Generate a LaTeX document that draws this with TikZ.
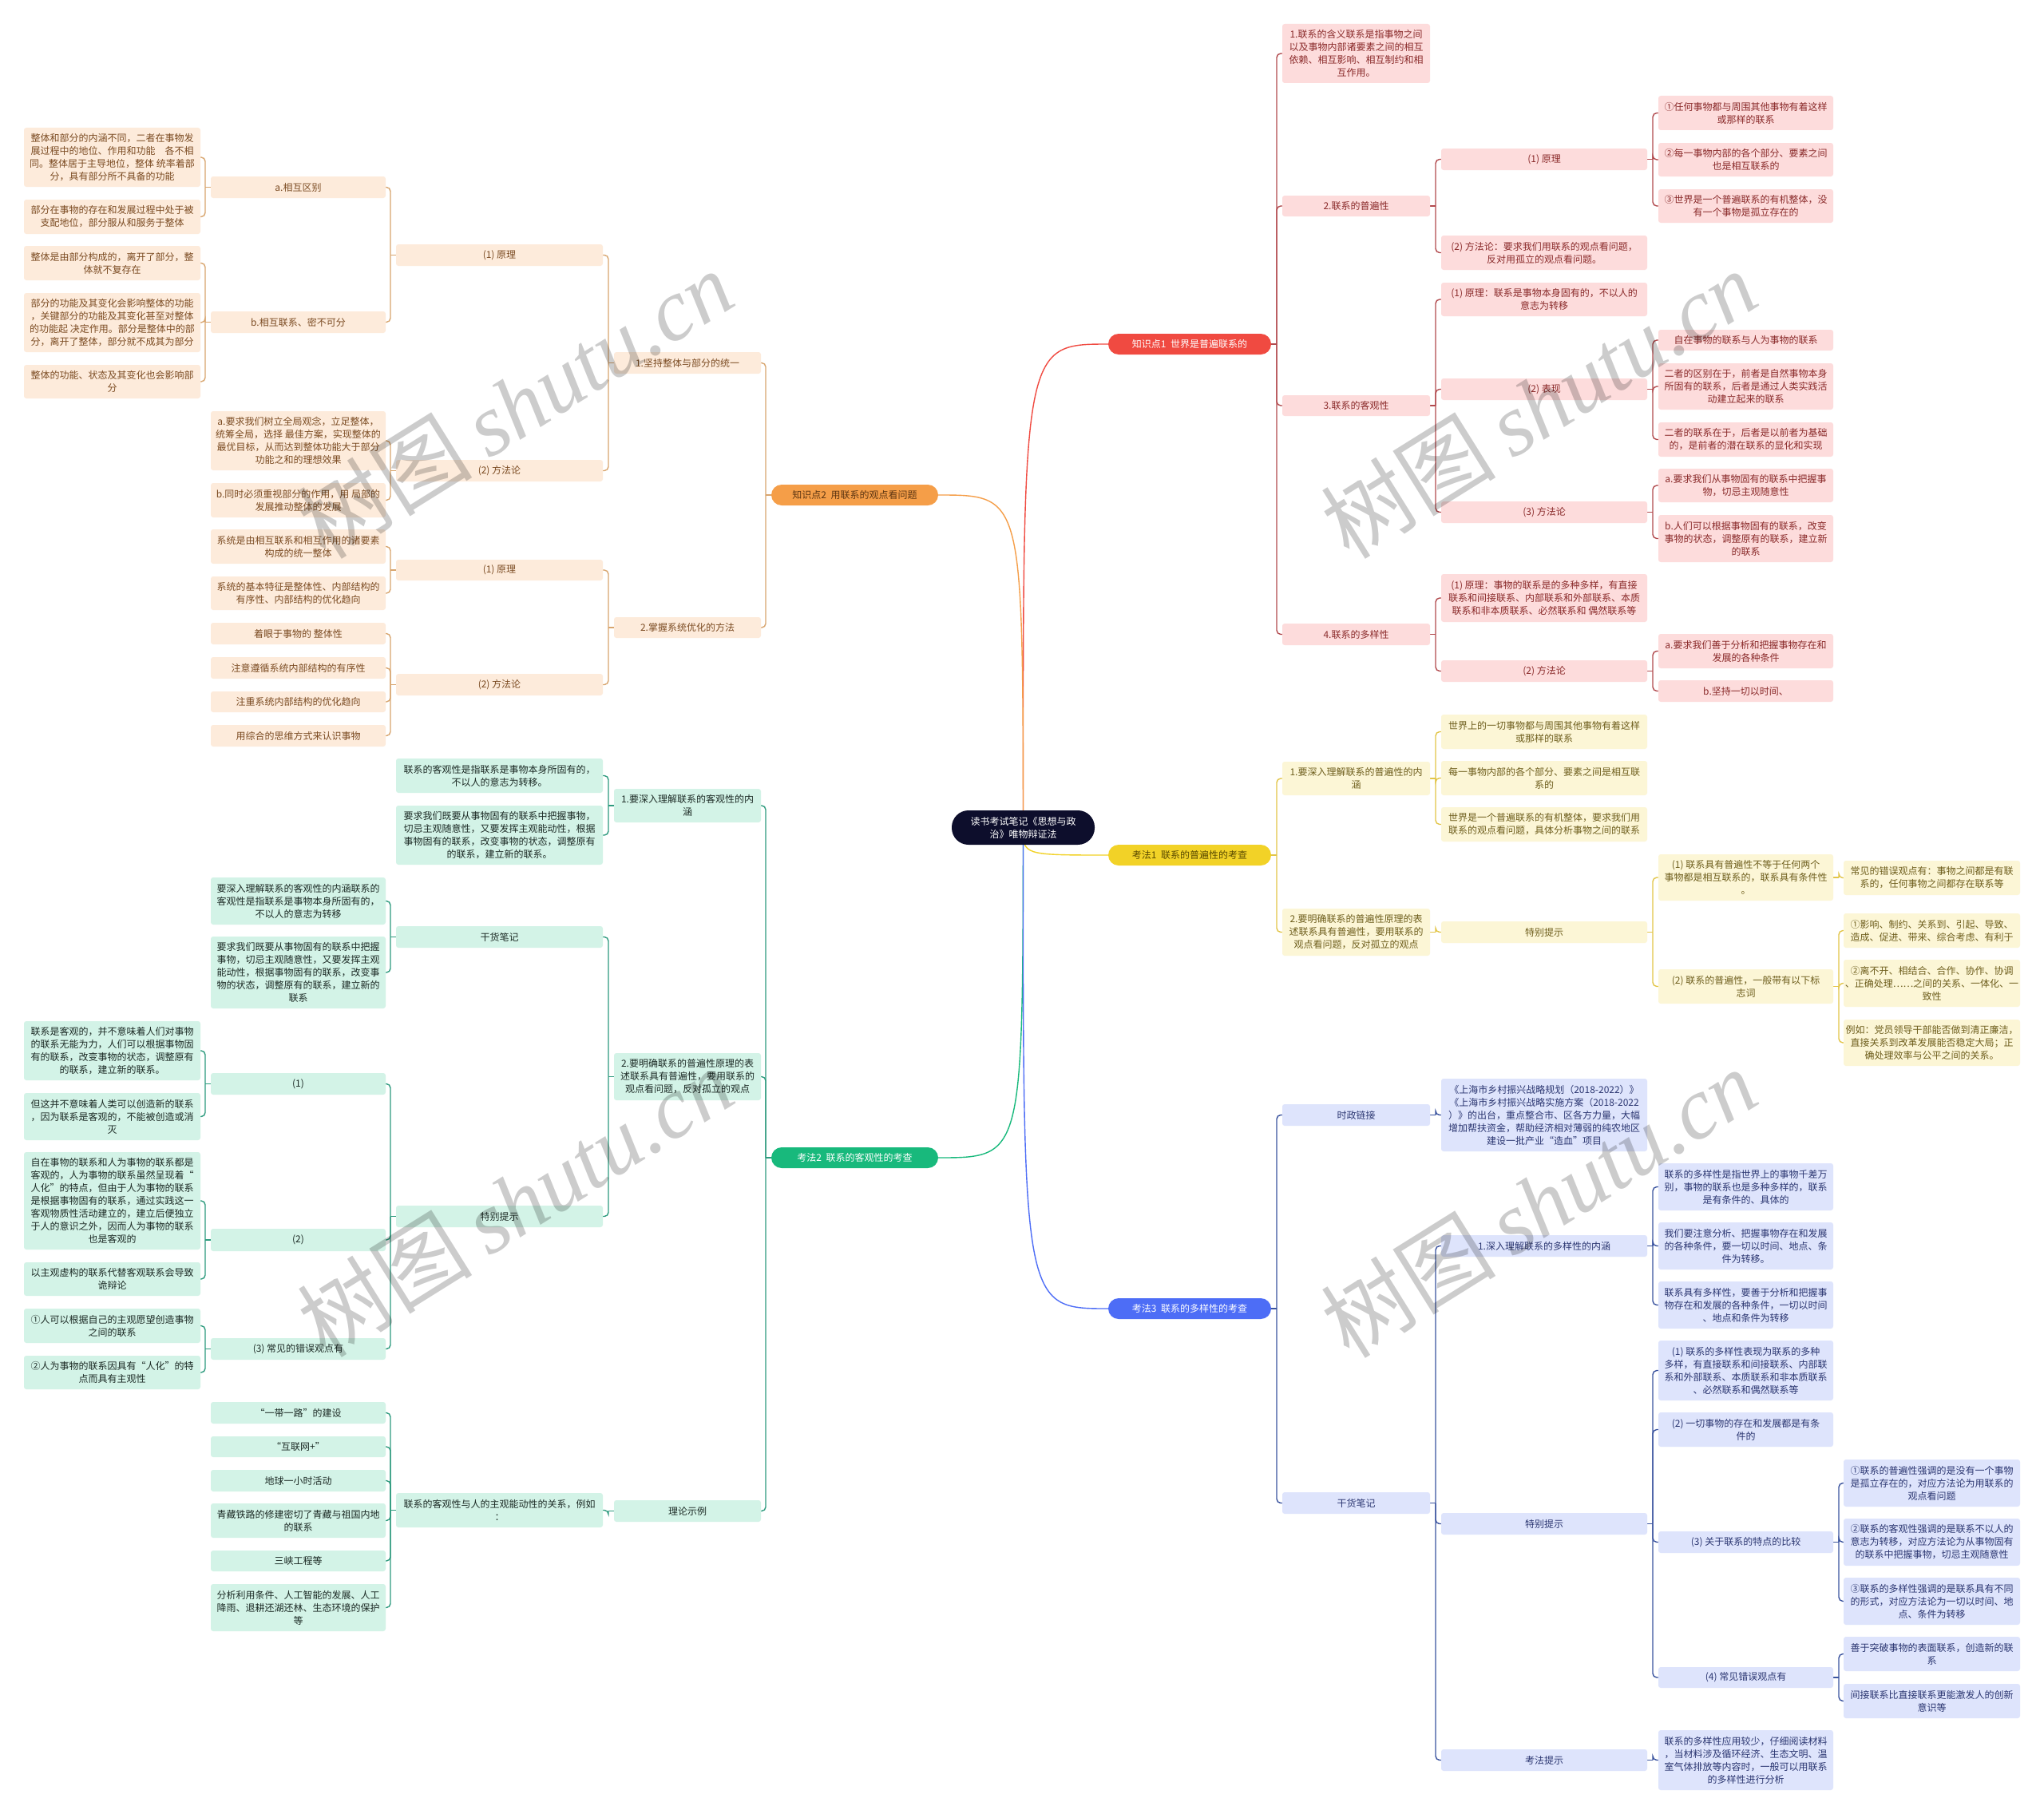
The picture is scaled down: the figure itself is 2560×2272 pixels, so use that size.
\documentclass[tikz,border=0pt]{standalone}
\usepackage{fontspec}
\setmainfont{Noto Sans CJK SC}
\newfontfamily\wmlat{Liberation Serif}
\usetikzlibrary{backgrounds}
\definecolor{peachF}{HTML}{FDEBDB}\definecolor{peachT}{HTML}{7B4B22}\definecolor{peachL}{HTML}{D8A56E}\definecolor{kpoF}{HTML}{F59E48}\definecolor{kpoT}{HTML}{5C3512}
\definecolor{pinkF}{HTML}{FDDCDC}\definecolor{pinkT}{HTML}{8A2A2A}\definecolor{pinkL}{HTML}{B24A4E}\definecolor{kprF}{HTML}{F04A41}
\definecolor{yelF}{HTML}{FCF6D6}\definecolor{yelT}{HTML}{6E5E1D}\definecolor{yelL}{HTML}{E2C548}\definecolor{kpyF}{HTML}{F2D227}\definecolor{kpyT}{HTML}{5A4A00}
\definecolor{grnF}{HTML}{D3F3E7}\definecolor{grnT}{HTML}{1C2A25}\definecolor{grnL}{HTML}{2E9B7E}\definecolor{kpgF}{HTML}{18B97C}
\definecolor{bluF}{HTML}{DEE4FC}\definecolor{bluT}{HTML}{2B3671}\definecolor{bluL}{HTML}{3A539F}\definecolor{kpbF}{HTML}{4D6DF6}
\definecolor{rootF}{HTML}{0D0E2C}
\tikzset{
  base/.style={rectangle, rounded corners=3pt, inner sep=0pt, outer sep=0pt, align=center, font=\fontsize{12}{16}\selectfont},
  pe/.style={base, fill=peachF, text=peachT},
  pk/.style={base, fill=pinkF, text=pinkT},
  ye/.style={base, fill=yelF, text=yelT},
  gr/.style={base, fill=grnF, text=grnT},
  bl/.style={base, fill=bluF, text=bluT},
  kpbase/.style={base, rounded corners=13pt},
  kpo/.style={kpbase, fill=kpoF, text=kpoT},
  kpr/.style={kpbase, fill=kprF, text=white},
  kpy/.style={kpbase, fill=kpyF, text=kpyT},
  kpg/.style={kpbase, fill=kpgF, text=white},
  kpb/.style={kpbase, fill=kpbF, text=white},
  rootst/.style={base, rounded corners=21pt, fill=rootF, text=white},
  cpe/.style={draw=peachL, line width=1.4pt},
  cpk/.style={draw=pinkL, line width=1.4pt},
  cye/.style={draw=yelL, line width=1.4pt},
  cgr/.style={draw=grnL, line width=1.4pt},
  cbl/.style={draw=bluL, line width=1.4pt},
  wm/.style={text=black, opacity=0.2, rotate=32, inner sep=0pt},
}
\newcommand\nd[7]{\node[#1, minimum width={(#5)-(#3)}, minimum height={(#6)-(#4)}] (#2) at ({((#3)+(#5))/2},{((#4)+(#6))/2}) {#7};}
\newcommand\brR[3]{\draw[#1] (#2.east) -- ++(7,0) coordinate (jn);
  \foreach \ch in {#3}{\draw[#1, rounded corners=5pt] (jn) |- (\ch.west);}}
\newcommand\brL[3]{\draw[#1] (#2.west) -- ++(-7,0) coordinate (jn);
  \foreach \ch in {#3}{\draw[#1, rounded corners=5pt] (jn) |- (\ch.east);}}
\begin{document}
\begin{tikzpicture}[x=1pt,y=-1pt]
\useasboundingbox (0,0) rectangle (2560,2272);
% root
\nd{rootst}{root}{1192}{1015}{1371}{1058}{读书考试笔记《思想与政\\治》唯物辩证法}
% ===== 知识点2 =====
\nd{kpo}{kp2}{966}{607}{1175}{633}{知识点2\ \ 用联系的观点看问题}
\nd{pe}{d1}{769}{441}{953}{468}{1.坚持整体与部分的统一}
\nd{pe}{d2}{769}{773}{953}{799}{2.掌握系统优化的方法}
\nd{pe}{c1}{496}{306}{755}{333}{(1) 原理}
\nd{pe}{c2}{496}{576}{755}{603}{(2) 方法论}
\nd{pe}{c3}{496}{701}{755}{727}{(1) 原理}
\nd{pe}{c4}{496}{844}{755}{871}{(2) 方法论}
\nd{pe}{b1}{264}{221}{483}{248}{a.相互区别}
\nd{pe}{b2}{264}{390}{483}{417}{b.相互联系、密不可分}
\nd{pe}{b3}{264}{515}{483}{589}{a.要求我们树立全局观念，立足整体，\\统筹全局，选择 最佳方案，实现整体的\\最优目标，从而达到整体功能大于部分\\功能之和的理想效果}
\nd{pe}{b4}{264}{605}{483}{648}{b.同时必须重视部分的作用，用 局部的\\发展推动整体的发展}
\nd{pe}{b5}{264}{663}{483}{706}{系统是由相互联系和相互作用的诸要素\\构成的统一整体}
\nd{pe}{b6}{264}{722}{483}{764}{系统的基本特征是整体性、内部结构的\\有序性、内部结构的优化趋向}
\nd{pe}{b7}{264}{780}{483}{807}{着眼于事物的 整体性}
\nd{pe}{b8}{264}{823}{483}{850}{注意遵循系统内部结构的有序性}
\nd{pe}{b9}{264}{866}{483}{892}{注重系统内部结构的优化趋向}
\nd{pe}{b10}{264}{908}{483}{935}{用综合的思维方式来认识事物}
\nd{pe}{a1}{30}{160}{251}{234}{整体和部分的内涵不同，二者在事物发\\展过程中的地位、作用和功能　各不相\\同。整体居于主导地位，整体 统率着部\\分，具有部分所不具备的功能}
\nd{pe}{a2}{30}{250}{251}{293}{部分在事物的存在和发展过程中处于被\\支配地位，部分服从和服务于整体}
\nd{pe}{a3}{30}{308}{251}{351}{整体是由部分构成的，离开了部分，整\\体就不复存在}
\nd{pe}{a4}{30}{367}{251}{441}{部分的功能及其变化会影响整体的功能\\，关键部分的功能及其变化甚至对整体\\的功能起 决定作用。部分是整体中的部\\分，离开了整体，部分就不成其为部分}
\nd{pe}{a5}{30}{457}{251}{499}{整体的功能、状态及其变化也会影响部\\分}
% ===== 考法2 =====
\nd{kpg}{kf2}{966}{1437}{1175}{1463}{考法2\ \ 联系的客观性的考查}
\nd{gr}{e1}{769}{988}{953}{1030}{1.要深入理解联系的客观性的内\\涵}
\nd{gr}{e2}{769}{1319}{953}{1378}{2.要明确联系的普遍性原理的表\\述联系具有普遍性，要用联系的\\观点看问题，反对孤立的观点}
\nd{gr}{e3}{769}{1879}{953}{1906}{理论示例}
\nd{gr}{f1}{496}{950}{755}{993}{联系的客观性是指联系是事物本身所固有的，\\不以人的意志为转移。}
\nd{gr}{f2}{496}{1009}{755}{1083}{要求我们既要从事物固有的联系中把握事物，\\切忌主观随意性，又要发挥主观能动性，根据\\事物固有的联系，改变事物的状态，调整原有\\的联系，建立新的联系。}
\nd{gr}{f3}{496}{1160}{755}{1187}{干货笔记}
\nd{gr}{f4}{496}{1510}{755}{1537}{特别提示}
\nd{gr}{f5}{496}{1870}{755}{1913}{联系的客观性与人的主观能动性的关系，例如\\：}
\nd{gr}{g1}{264}{1099}{483}{1158}{要深入理解联系的客观性的内涵联系的\\客观性是指联系是事物本身所固有的，\\不以人的意志为转移}
\nd{gr}{g2}{264}{1173}{483}{1263}{要求我们既要从事物固有的联系中把握\\事物，切忌主观随意性，又要发挥主观\\能动性，根据事物固有的联系，改变事\\物的状态，调整原有的联系，建立新的\\联系}
\nd{gr}{g3}{264}{1344}{483}{1371}{(1)}
\nd{gr}{g4}{264}{1539}{483}{1567}{(2)}
\nd{gr}{g5}{264}{1676}{483}{1703}{(3) 常见的错误观点有}
\nd{gr}{g6}{264}{1756}{483}{1783}{“一带一路”的建设}
\nd{gr}{g7}{264}{1799}{483}{1825}{“互联网+”}
\nd{gr}{g8}{264}{1841}{483}{1868}{地球一小时活动}
\nd{gr}{g9}{264}{1883}{483}{1926}{青藏铁路的修建密切了青藏与祖国内地\\的联系}
\nd{gr}{g10}{264}{1942}{483}{1968}{三峡工程等}
\nd{gr}{g11}{264}{1984}{483}{2043}{分析利用条件、人工智能的发展、人工\\降雨、退耕还湖还林、生态环境的保护\\等}
\nd{gr}{h1}{30}{1279}{251}{1353}{联系是客观的，并不意味着人们对事物\\的联系无能为力，人们可以根据事物固\\有的联系，改变事物的状态，调整原有\\的联系，建立新的联系。}
\nd{gr}{h2}{30}{1369}{251}{1428}{但这并不意味着人类可以创造新的联系\\，因为联系是客观的，不能被创造或消\\灭}
\nd{gr}{h3}{30}{1443}{251}{1565}{自在事物的联系和人为事物的联系都是\\客观的，人为事物的联系虽然呈现着“\\人化”的特点，但由于人为事物的联系\\是根据事物固有的联系，通过实践这一\\客观物质性活动建立的，建立后便独立\\于人的意识之外，因而人为事物的联系\\也是客观的}
\nd{gr}{h4}{30}{1581}{251}{1623}{以主观虚构的联系代替客观联系会导致\\诡辩论}
\nd{gr}{h5}{30}{1639}{251}{1682}{①人可以根据自己的主观愿望创造事物\\之间的联系}
\nd{gr}{h6}{30}{1698}{251}{1740}{②人为事物的联系因具有“人化”的特\\点而具有主观性}
% ===== 知识点1 =====
\nd{kpr}{kp1}{1388}{418}{1592}{444}{知识点1\ \ 世界是普遍联系的}
\nd{pk}{p1}{1606}{30}{1791}{104}{1.联系的含义联系是指事物之间\\以及事物内部诸要素之间的相互\\依赖、相互影响、相互制约和相\\互作用。}
\nd{pk}{p2}{1606}{245}{1791}{271}{2.联系的普遍性}
\nd{pk}{p3}{1606}{495}{1791}{521}{3.联系的客观性}
\nd{pk}{p4}{1606}{781}{1791}{808}{4.联系的多样性}
\nd{pk}{q1}{1805}{186}{2063}{213}{(1) 原理}
\nd{pk}{q2}{1805}{295}{2063}{338}{(2) 方法论：要求我们用联系的观点看问题，\\反对用孤立的观点看问题。}
\nd{pk}{q3}{1805}{354}{2063}{396}{(1) 原理：联系是事物本身固有的，不以人的\\意志为转移}
\nd{pk}{q4}{1805}{474}{2063}{501}{(2) 表现}
\nd{pk}{q5}{1805}{628}{2063}{655}{(3) 方法论}
\nd{pk}{q6}{1805}{719}{2063}{779}{(1) 原理：事物的联系是的多种多样，有直接\\联系和间接联系、内部联系和外部联系、本质\\联系和非本质联系、必然联系和 偶然联系等}
\nd{pk}{q7}{1805}{827}{2063}{854}{(2) 方法论}
\nd{pk}{r1}{2077}{120}{2296}{163}{①任何事物都与周围其他事物有着这样\\或那样的联系}
\nd{pk}{r2}{2077}{179}{2296}{221}{②每一事物内部的各个部分、要素之间\\也是相互联系的}
\nd{pk}{r3}{2077}{237}{2296}{279}{③世界是一个普遍联系的有机整体，没\\有一个事物是孤立存在的}
\nd{pk}{r4}{2077}{413}{2296}{439}{自在事物的联系与人为事物的联系}
\nd{pk}{r5}{2077}{455}{2296}{513}{二者的区别在于，前者是自然事物本身\\所固有的联系，后者是通过人类实践活\\动建立起来的联系}
\nd{pk}{r6}{2077}{529}{2296}{572}{二者的联系在于，后者是以前者为基础\\的，是前者的潜在联系的显化和实现}
\nd{pk}{r7}{2077}{587}{2296}{629}{a.要求我们从事物固有的联系中把握事\\物，切忌主观随意性}
\nd{pk}{r8}{2077}{645}{2296}{704}{b.人们可以根据事物固有的联系，改变\\事物的状态，调整原有的联系，建立新\\的联系}
\nd{pk}{r9}{2077}{794}{2296}{837}{a.要求我们善于分析和把握事物存在和\\发展的各种条件}
\nd{pk}{r10}{2077}{852}{2296}{879}{b.坚持一切以时间、}
% ===== 考法1 =====
\nd{kpy}{kf1}{1388}{1058}{1592}{1084}{考法1\ \ 联系的普遍性的考查}
\nd{ye}{s1}{1606}{954}{1791}{996}{1.要深入理解联系的普遍性的内\\涵}
\nd{ye}{s2}{1606}{1138}{1791}{1197}{2.要明确联系的普遍性原理的表\\述联系具有普遍性，要用联系的\\观点看问题，反对孤立的观点}
\nd{ye}{t1}{1805}{895}{2063}{938}{世界上的一切事物都与周围其他事物有着这样\\或那样的联系}
\nd{ye}{t2}{1805}{953}{2063}{996}{每一事物内部的各个部分、要素之间是相互联\\系的}
\nd{ye}{t3}{1805}{1011}{2063}{1054}{世界是一个普遍联系的有机整体，要求我们用\\联系的观点看问题，具体分析事物之间的联系}
\nd{ye}{t4}{1805}{1154}{2063}{1181}{特别提示}
\nd{ye}{u1}{2077}{1070}{2296}{1128}{(1) 联系具有普遍性不等于任何两个\\事物都是相互联系的，联系具有条件性\\。}
\nd{ye}{u2}{2077}{1214}{2296}{1257}{(2) 联系的普遍性，一般带有以下标\\志词}
\nd{ye}{v1}{2309}{1078}{2530}{1121}{常见的错误观点有：事物之间都是有联\\系的，任何事物之间都存在联系等}
\nd{ye}{v2}{2309}{1144}{2530}{1187}{①影响、制约、关系到、引起、导致、\\造成、促进、带来、综合考虑、有利于}
\nd{ye}{v3}{2309}{1202}{2530}{1261}{②离不开、相结合、合作、协作、协调\\、正确处理……之间的关系、一体化、一\\致性}
\nd{ye}{v4}{2309}{1277}{2530}{1335}{例如：党员领导干部能否做到清正廉洁，\\直接关系到改革发展能否稳定大局；正\\确处理效率与公平之间的关系。}
% ===== 考法3 =====
\nd{kpb}{kf3}{1388}{1626}{1592}{1652}{考法3\ \ 联系的多样性的考查}
\nd{bl}{w1}{1606}{1383}{1791}{1410}{时政链接}
\nd{bl}{w2}{1606}{1869}{1791}{1896}{干货笔记}
\nd{bl}{x1}{1805}{1351}{2063}{1442}{《上海市乡村振兴战略规划（2018-2022）》\\《上海市乡村振兴战略实施方案（2018-2022\\）》的出台，重点整合市、区各方力量，大幅\\增加帮扶资金，帮助经济相对薄弱的纯农地区\\建设一批产业“造血”项目}
\nd{bl}{x2}{1805}{1547}{2063}{1574}{1.深入理解联系的多样性的内涵}
\nd{bl}{x3}{1805}{1895}{2063}{1922}{特别提示}
\nd{bl}{x4}{1805}{2191}{2063}{2218}{考法提示}
\nd{bl}{y1}{2077}{1457}{2296}{1516}{联系的多样性是指世界上的事物千差万\\别，事物的联系也是多种多样的，联系\\是有条件的、具体的}
\nd{bl}{y2}{2077}{1531}{2296}{1590}{我们要注意分析、把握事物存在和发展\\的各种条件，要一切以时间、地点、条\\件为转移。}
\nd{bl}{y3}{2077}{1605}{2296}{1664}{联系具有多样性，要善于分析和把握事\\物存在和发展的各种条件，一切以时间\\、地点和条件为转移}
\nd{bl}{y4}{2077}{1679}{2296}{1754}{(1) 联系的多样性表现为联系的多种\\多样，有直接联系和间接联系、内部联\\系和外部联系、本质联系和非本质联系\\、必然联系和偶然联系等}
\nd{bl}{y5}{2077}{1769}{2296}{1812}{(2) 一切事物的存在和发展都是有条\\件的}
\nd{bl}{y6}{2077}{1918}{2296}{1945}{(3) 关于联系的特点的比较}
\nd{bl}{y7}{2077}{2088}{2296}{2114}{(4) 常见错误观点有}
\nd{bl}{y8}{2077}{2167}{2296}{2242}{联系的多样性应用较少，仔细阅读材料\\，当材料涉及循环经济、生态文明、温\\室气体排放等内容时，一般可以用联系\\的多样性进行分析}
\nd{bl}{z1}{2309}{1828}{2530}{1887}{①联系的普遍性强调的是没有一个事物\\是孤立存在的，对应方法论为用联系的\\观点看问题}
\nd{bl}{z2}{2309}{1902}{2530}{1961}{②联系的客观性强调的是联系不以人的\\意志为转移，对应方法论为从事物固有\\的联系中把握事物，切忌主观随意性}
\nd{bl}{z3}{2309}{1976}{2530}{2035}{③联系的多样性强调的是联系具有不同\\的形式，对应方法论为一切以时间、地\\点、条件为转移}
\nd{bl}{z4}{2309}{2050}{2530}{2093}{善于突破事物的表面联系，创造新的联\\系}
\nd{bl}{z5}{2309}{2109}{2530}{2152}{间接联系比直接联系更能激发人的创新\\意识等}
% ===== connectors =====
\begin{pgfonlayer}{background}
\fill[white] (0,0) rectangle (2560,2272);
\draw[draw=kprF, line width=1.4pt] (root.center) .. controls (1281,431) .. (kp1.west);
\draw[draw=kpoF, line width=1.4pt] (root.center) .. controls (1281,620) .. (kp2.east);
\draw[draw=kpyF, line width=1.4pt] (root.center) .. controls (1281,1071) .. (kf1.west);
\draw[draw=kpgF, line width=1.4pt] (root.center) .. controls (1281,1450) .. (kf2.east);
\draw[draw=kpbF, line width=1.4pt] (root.center) .. controls (1281,1639) .. (kf3.west);
\brL{cpe}{kp2}{d1,d2}
\brL{cpe}{d1}{c1,c2}
\brL{cpe}{d2}{c3,c4}
\brL{cpe}{c1}{b1,b2}
\brL{cpe}{c2}{b3,b4}
\brL{cpe}{c3}{b5,b6}
\brL{cpe}{c4}{b7,b8,b9,b10}
\brL{cpe}{b1}{a1,a2}
\brL{cpe}{b2}{a3,a4,a5}
\brL{cgr}{kf2}{e1,e2,e3}
\brL{cgr}{e1}{f1,f2}
\brL{cgr}{e2}{f3,f4}
\brL{cgr}{e3}{f5}
\brL{cgr}{f3}{g1,g2}
\brL{cgr}{f4}{g3,g4,g5}
\brL{cgr}{f5}{g6,g7,g8,g9,g10,g11}
\brL{cgr}{g3}{h1,h2}
\brL{cgr}{g4}{h3,h4}
\brL{cgr}{g5}{h5,h6}
\brR{cpk}{kp1}{p1,p2,p3,p4}
\brR{cpk}{p2}{q1,q2}
\brR{cpk}{p3}{q3,q4,q5}
\brR{cpk}{p4}{q6,q7}
\brR{cpk}{q1}{r1,r2,r3}
\brR{cpk}{q4}{r4,r5,r6}
\brR{cpk}{q5}{r7,r8}
\brR{cpk}{q7}{r9,r10}
\brR{cye}{kf1}{s1,s2}
\brR{cye}{s1}{t1,t2,t3}
\brR{cye}{s2}{t4}
\brR{cye}{t4}{u1,u2}
\brR{cye}{u1}{v1}
\brR{cye}{u2}{v2,v3,v4}
\brR{cbl}{kf3}{w1,w2}
\brR{cbl}{w1}{x1}
\brR{cbl}{w2}{x2,x3,x4}
\brR{cbl}{x2}{y1,y2,y3}
\brR{cbl}{x3}{y4,y5,y6,y7}
\brR{cbl}{x4}{y8}
\brR{cbl}{y6}{z1,z2,z3}
\brR{cbl}{y7}{z4,z5}
\end{pgfonlayer}
% ===== watermarks =====
\foreach \wx/\wy [count=\wi] in {645/506, 645/1505, 1927/506, 1927/1506}{
  \node[wm] (wm\wi) at (\wx,\wy) {\fontsize{110}{110}\selectfont 树图\hspace{20pt}{\wmlat\itshape shutu.cn}};
}
\end{tikzpicture}
\end{document}
